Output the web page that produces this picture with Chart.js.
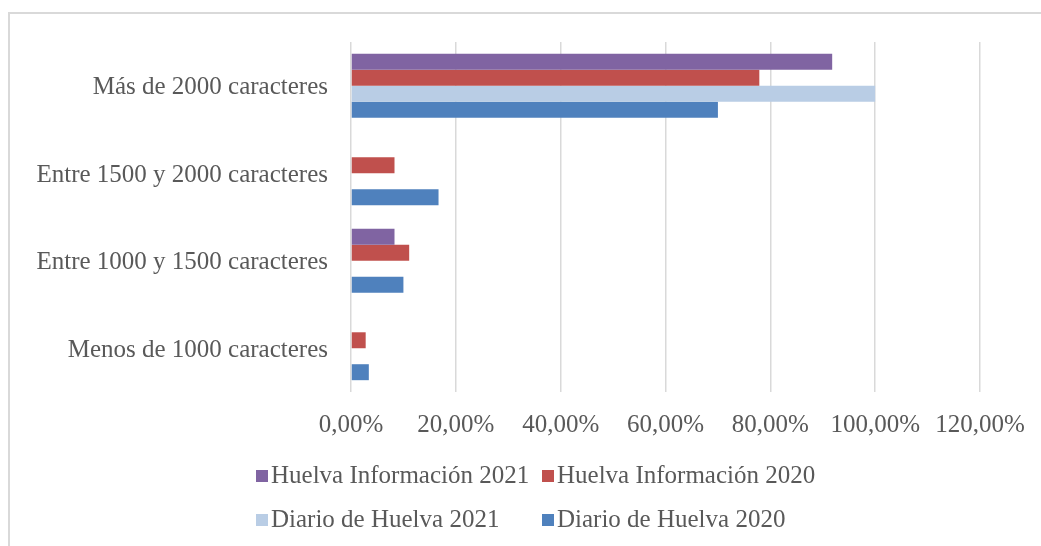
<!DOCTYPE html>
<html>
<head>
<meta charset="utf-8">
<script src="https://cdn.jsdelivr.net/npm/chart.js@4"></script>
<style>
  body { margin: 0; background: #fff; }
  #wrap { position: relative; width: 1041px; height: 546px; overflow: hidden; }
  #frame { position: absolute; left: 8px; top: 12px; width: 1100px; height: 600px;
           border-left: 2px solid #d9d9d9; border-top: 2px solid #d9d9d9; }
  .leg { position: absolute; font-family: 'Liberation Serif', serif; font-size: 25px;
         color: #595959; white-space: nowrap; line-height: 30px; }
  .leg span { display: inline-block; width: 12px; height: 12px; margin-right: 3px; vertical-align: 1px; }
</style>
</head>
<body>
<div id="wrap">
  <div id="frame"></div>
  <canvas id="myChart" width="1041" height="546"></canvas>
</div>
<script>
// categories, top to bottom
var categories = ['Más de 2000 caracteres', 'Entre 1500 y 2000 caracteres', 'Entre 1000 y 1500 caracteres', 'Menos de 1000 caracteres']

// percentages per category
var huelvaInfo2021 = [91.8, 0, 8.3, 0]
var huelvaInfo2020 = [77.9, 8.3, 11.1, 2.8]
var diarioHuelva2021 = [100, 0, 0, 0]
var diarioHuelva2020 = [70, 16.7, 10, 3.4]

var seriesNames = ['Huelva Información 2021', 'Huelva Información 2020', 'Diario de Huelva 2021', 'Diario de Huelva 2020']
var seriesColors = ['#8064a2', '#c0504d', '#b9cde5', '#4f81bd']
var xTicks = [0, 20, 40, 60, 80, 100, 120]

var font = { family: "'Liberation Serif', serif", size: 25 }
var values = [huelvaInfo2021, huelvaInfo2020, diarioHuelva2021, diarioHuelva2020]

var ctx = document.getElementById('myChart')
var chart = new Chart(ctx, {
  type: 'bar',
  data: {
    labels: categories,
    datasets: values.map(function (v, i) {
      return { label: seriesNames[i], data: v, backgroundColor: seriesColors[i], borderWidth: 0 }
    })
  },
  options: {
    indexAxis: 'y',
    responsive: false,
    animation: false,
    layout: { padding: { top: 42, right: 61, bottom: 94, left: 0 } },
    datasets: { bar: { categoryPercentage: 0.73, barPercentage: 1 } },
    plugins: { legend: { display: false }, tooltip: { enabled: false } },
    scales: {
      x: {
        min: 0,
        max: 120,
        clip: false,
        afterBuildTicks: function (scale) { scale.ticks = xTicks.map(function (v) { return { value: v } }) },
        afterFit: function (scale) {
          scale.height = 60
          scale.paddingLeft = 0
          scale.paddingRight = 0
        },
        grid: { color: '#d9d9d9', lineWidth: 1.5, drawTicks: false },
        border: { display: false },
        ticks: {
          color: '#595959', font: font, padding: 18, maxRotation: 0,
          callback: function (v) { return v.toFixed(2).replace('.', ',') + '%' }
        }
      },
      y: {
        afterFit: function (scale) { scale.width = 351 },
        grid: { display: false, drawTicks: false },
        border: { display: false },
        ticks: { color: '#595959', font: font, padding: 23, labelOffset: 2 }
      }
    }
  }
})

// legend in two columns, like the original
var legendX = [256, 542]
var legendY = [460, 504]
var wrap = document.getElementById('wrap')
seriesNames.forEach(function (name, i) {
  var d = document.createElement('div')
  d.className = 'leg'
  d.style.left = legendX[i % 2] + 'px'
  d.style.top = legendY[Math.floor(i / 2)] + 'px'
  d.innerHTML = '<span style="background:' + seriesColors[i] + '"></span>' + name
  wrap.appendChild(d)
})
</script>
</body>
</html>
